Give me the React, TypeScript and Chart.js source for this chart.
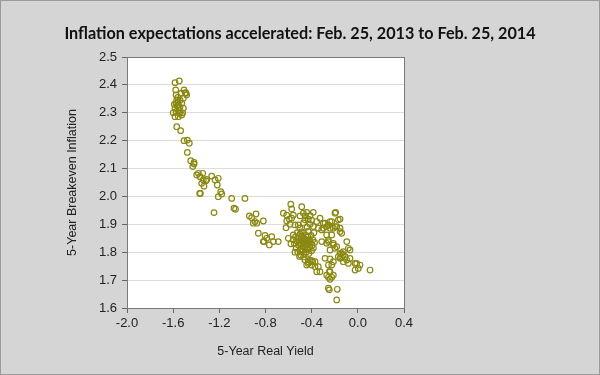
import React, { useEffect, useRef } from "react";
import { Chart, registerables } from "chart.js";

Chart.register(...registerables);

const chartTitle = "Inflation expectations accelerated: Feb. 25, 2013 to Feb. 25, 2014";
const xAxisTitle = "5-Year Real Yield";
const yAxisTitle = "5-Year Breakeven Inflation";

// 5-year real yield (x) and 5-year breakeven inflation (y)
const upperRealYield = [-1.584, -1.547, -1.578, -1.506, -1.489, -1.483, -1.512, -1.575, -1.569, -1.575, -1.555, -1.526, -1.584, -1.541, -1.512, -1.575, -1.547, -1.517, -1.584, -1.555, -1.526, -1.569, -1.535, -1.506, -1.477, -1.46, -1.477, -1.448, -1.419, -1.43, -1.419, -1.56, -1.565, -1.55, -1.54, -1.495, -1.53, -1.59, -1.56, -1.545, -1.6];
const upperBreakeven = [2.408, 2.414, 2.382, 2.382, 2.37, 2.364, 2.352, 2.364, 2.346, 2.334, 2.328, 2.334, 2.316, 2.32, 2.316, 2.304, 2.298, 2.3, 2.286, 2.286, 2.292, 2.25, 2.236, 2.2, 2.202, 2.191, 2.158, 2.128, 2.122, 2.107, 2.116, 2.34, 2.325, 2.31, 2.345, 2.372, 2.37, 2.33, 2.355, 2.3, 2.3];

const descentRealYield = [-1.396, -1.382, -1.344, -1.367, -1.339, -1.315, -1.353, -1.333, -1.309, -1.37, -1.364, -1.266, -1.237, -1.209, -1.218, -1.188, -1.179, -1.209, -1.093, -0.978, -1.073, -1.06, -1.246, -0.94, -0.882, -0.92, -0.891, -0.876, -0.906, -0.819, -0.862, -0.804, -0.789, -0.819, -0.767, -0.746, -0.732, -0.689, -0.813];
const descentBreakeven = [2.077, 2.083, 2.083, 2.071, 2.059, 2.056, 2.047, 2.037, 2.061, 2.011, 2.011, 2.073, 2.059, 2.065, 2.041, 2.017, 2.009, 1.999, 1.993, 1.993, 1.958, 1.954, 1.942, 1.93, 1.937, 1.924, 1.91, 1.904, 1.904, 1.912, 1.868, 1.86, 1.85, 1.838, 1.826, 1.856, 1.838, 1.838, 1.838];

const clusterRealYield = [-0.645, -0.616, -0.594, -0.616, -0.581, -0.573, -0.559, -0.573, -0.622, -0.588, -0.544, -0.486, -0.472, -0.443, -0.414, -0.386, -0.458, -0.429, -0.414, -0.386, -0.356, -0.342, -0.516, -0.501, -0.602, -0.559, -0.5, -0.455, -0.47, -0.44, -0.4,
  -0.56, -0.55, -0.54, -0.535, -0.53, -0.525, -0.52, -0.515, -0.51, -0.505, -0.5, -0.498, -0.495, -0.49, -0.488, -0.485, -0.48, -0.478, -0.475, -0.47, -0.468, -0.465, -0.462, -0.458, -0.455, -0.45, -0.448, -0.445, -0.44, -0.436, -0.432, -0.428, -0.424, -0.42, -0.415, -0.41, -0.405, -0.4, -0.395, -0.39, -0.385, -0.38, -0.375, -0.545, -0.505, -0.47, -0.58, -0.43, -0.49];
const clusterBreakeven = [1.94, 1.933, 1.919, 1.912, 1.972, 1.955, 1.933, 1.922, 1.888, 1.9, 1.898, 1.963, 1.94, 1.943, 1.931, 1.943, 1.916, 1.919, 1.9, 1.892, 1.91, 1.886, 1.898, 1.886, 1.85, 1.862, 1.93, 1.93, 1.905, 1.89, 1.915,
  1.845, 1.83, 1.855, 1.815, 1.84, 1.87, 1.8, 1.825, 1.85, 1.835, 1.865, 1.812, 1.79, 1.845, 1.828, 1.858, 1.805, 1.838, 1.82, 1.87, 1.85, 1.795, 1.832, 1.815, 1.845, 1.86, 1.8, 1.825, 1.84, 1.81, 1.855, 1.83, 1.795, 1.845, 1.818, 1.835, 1.86, 1.805, 1.825, 1.845, 1.815, 1.87, 1.835, 1.8, 1.785, 1.783, 1.83, 1.875, 1.873];

const rightRealYield = [-0.328, -0.299, -0.313, -0.27, -0.241, -0.198, -0.169, -0.212, -0.183, -0.154, -0.14, -0.226, -0.255, -0.27, -0.212, -0.241, -0.183, -0.154, -0.126, -0.096, -0.082, -0.068, -0.111, -0.126, -0.068, -0.082, -0.024, 0.004, 0.019, -0.024, 0.106,
  -0.192, -0.154, -0.284, -0.255, -0.226, -0.198, -0.241, -0.154, -0.299, -0.27, -0.313, -0.255, -0.212, -0.198, -0.14, -0.126, -0.169, -0.154, -0.096, -0.01];
const rightBreakeven = [1.922, 1.904, 1.88, 1.892, 1.91, 1.94, 1.916, 1.886, 1.892, 1.886, 1.868, 1.862, 1.844, 1.832, 1.832, 1.808, 1.82, 1.796, 1.802, 1.838, 1.814, 1.808, 1.784, 1.766, 1.778, 1.76, 1.76, 1.742, 1.754, 1.736, 1.736,
  1.943, 1.919, 1.904, 1.898, 1.91, 1.892, 1.886, 1.874, 1.886, 1.862, 1.838, 1.838, 1.826, 1.814, 1.796, 1.79, 1.784, 1.778, 1.772, 1.76];

const lowerRealYield = [-0.458, -0.429, -0.4, -0.371, -0.443, -0.4, -0.371, -0.342, -0.356, -0.328, -0.284, -0.241, -0.226, -0.241, -0.27, -0.255, -0.226, -0.212, -0.241, -0.255, -0.247, -0.178, -0.183, -0.414, -0.391, -0.429, -0.212, -0.255, -0.247, -0.14];
const lowerBreakeven = [1.772, 1.766, 1.77, 1.766, 1.754, 1.754, 1.748, 1.748, 1.73, 1.73, 1.778, 1.776, 1.754, 1.73, 1.718, 1.71, 1.71, 1.718, 1.703, 1.671, 1.665, 1.667, 1.629, 1.772, 1.766, 1.76, 1.766, 1.754, 1.73, 1.78];

const realYield = [...upperRealYield, ...descentRealYield, ...clusterRealYield, ...rightRealYield, ...lowerRealYield];
const breakeven = [...upperBreakeven, ...descentBreakeven, ...clusterBreakeven, ...rightBreakeven, ...lowerBreakeven];

const xMin = -2.0, xMax = 0.4, xStep = 0.4;
const yMin = 1.6, yMax = 2.5, yStep = 0.1;

const fmt = (v: number) => (Math.abs(v) < 1e-9 ? "0.0" : Number(v).toFixed(1));

const framePlugin = {
  id: "frame",
  beforeDatasetsDraw(chart: any) {
    const { ctx, chartArea } = chart;
    ctx.save();
    ctx.strokeStyle = "#7a7a7a";
    ctx.lineWidth = 1;
    ctx.strokeRect(Math.round(chartArea.left) + 0.5, Math.round(chartArea.top) + 0.5,
      Math.round(chartArea.right - chartArea.left), Math.round(chartArea.bottom - chartArea.top));
    ctx.restore();
  },
};

const whiteAreaPlugin = {
  id: "whiteArea",
  beforeDraw(chart: any) {
    const { ctx, chartArea } = chart;
    ctx.save();
    ctx.fillStyle = "#ffffff";
    ctx.fillRect(chartArea.left, chartArea.top, chartArea.right - chartArea.left, chartArea.bottom - chartArea.top);
    ctx.restore();
  },
};

const titlePlugin = {
  id: "pageTitle",
  afterDraw(chart: any) {
    const { ctx, width } = chart;
    ctx.save();
    ctx.fillStyle = "#111111";
    ctx.font = "bold 16.2px Lato";
    ctx.textAlign = "center";
    ctx.textBaseline = "middle";
    ctx.fillText(chartTitle, width / 2, 34);
    ctx.restore();
  },
};

export default function App() {
  const ref = useRef<HTMLCanvasElement | null>(null);
  useEffect(() => {
    document.body.style.margin = "0";
    if (!ref.current) return;
    const points = realYield.map((x, i) => ({ x, y: breakeven[i] }));
    const chart = new Chart(ref.current, {
      type: "scatter",
      data: {
        datasets: [
          {
            data: points,
            pointStyle: "circle",
            pointRadius: 2.8,
            pointBorderWidth: 1.2,
            pointBorderColor: "#8a8810",
            pointBackgroundColor: "rgba(255,255,255,0)",
          },
        ],
      },
      options: {
        responsive: false,
        animation: false,
        layout: { padding: { left: 62, right: 196, top: 57, bottom: 16 } },
        plugins: {
          legend: { display: false },
          tooltip: { enabled: false },
          title: { display: false },
        },
        scales: {
          x: {
            type: "linear",
            min: xMin,
            max: xMax,
            ticks: {
              stepSize: xStep,
              callback: (v: any) => fmt(v),
              color: "#222222",
              font: { family: "Liberation Sans", size: 13 },
              padding: 3,
              maxRotation: 0,
            },
            grid: { drawOnChartArea: false, drawTicks: true, tickLength: 5, tickColor: "#666666" },
            border: { display: false },
            title: {
              display: true,
              text: xAxisTitle,
              color: "#222222",
              font: { family: "Liberation Sans", size: 12.5, lineHeight: 1.2 },
              padding: { top: 0, bottom: 0 },
            },
            afterFit: (s: any) => { s.height = 51; },
          },
          y: {
            type: "linear",
            min: yMin,
            max: yMax,
            ticks: {
              stepSize: yStep,
              callback: (v: any) => fmt(v),
              color: "#222222",
              font: { family: "Liberation Sans", size: 13 },
              padding: 5,
            },
            grid: { color: "#dddddd", drawTicks: true, tickLength: 5, tickColor: "#666666" },
            border: { display: false },
            title: {
              display: true,
              text: yAxisTitle,
              color: "#222222",
              font: { family: "Liberation Sans", size: 12.5, lineHeight: 1.2 },
              padding: { top: 3, bottom: 0 },
            },
            afterFit: (s: any) => { s.width = 65; },
          },
        },
      },
      plugins: [whiteAreaPlugin, framePlugin, titlePlugin],
    } as any);
    return () => chart.destroy();
  }, []);

  return (
    <div style={{ position: "absolute", left: 0, top: 0, width: 600, height: 375, background: "#d5d5d5" }}>
      <canvas ref={ref} width={600} height={375} style={{ display: "block" }} />
      <div style={{ position: "absolute", left: 0, top: 0, width: 600, height: 375, boxSizing: "border-box", border: "1px solid #9a9a9a", pointerEvents: "none" }} />
    </div>
  );
}
